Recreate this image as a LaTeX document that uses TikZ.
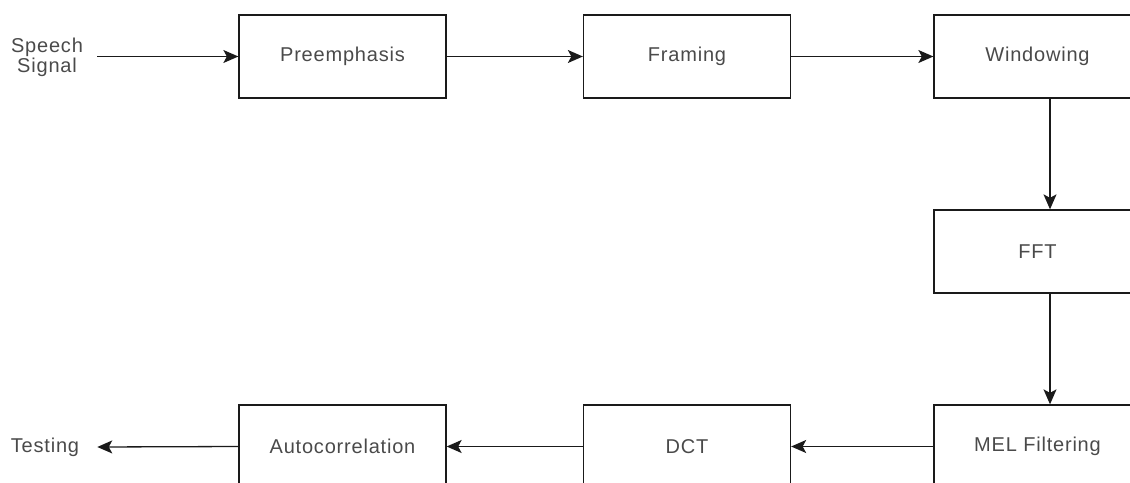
\documentclass[tikz,border=0pt]{standalone}
\usepackage{fontspec}
\setmainfont{Liberation Sans}[LetterSpace=4]
\usetikzlibrary{arrows.meta}
\definecolor{txt}{HTML}{4A4A4A}
\definecolor{ln}{HTML}{1A1A1A}
\tikzset{
  blk/.style={draw=ln, line width=1.3pt, minimum width=207pt, minimum height=83pt, inner sep=0pt, text=txt, font=\fontsize{20}{23}\selectfont},
  lbl/.style={text=txt, font=\fontsize{20}{20}\selectfont, align=center, inner sep=0pt},
  arr/.style={draw=ln, line width=1.3pt, -{Stealth[length=15pt,width=13pt,inset=3.5pt]}}
}
\begin{document}
\begin{tikzpicture}[x=1pt,y=-1pt]
\useasboundingbox (0,0) rectangle (1130,482);
\clip (0,0) rectangle (1130,482);
\node[blk] (pre) at (342.5,56.5) {Preemphasis};
\node[blk] (fra) at (687,56.5) {Framing};
\node[blk] (win) at (1037.5,56.5) {Windowing};
\node[blk] (fft) at (1037.5,251.5) {FFT};
\node[blk] (mel) at (1037.5,446.5) {MEL Filtering};
\node[blk] (dct) at (687,446.5) {DCT};
\node[blk] (aut) at (342.5,446.5) {Autocorrelation};
\node[lbl] (sp) at (47,57) {Speech\\Signal};
\node[lbl] (te) at (45,447) {Testing};
\draw[arr] ([xshift=-141pt]pre.west) -- (pre.west);
\draw[arr] (pre.east) -- (fra.west);
\draw[arr] (fra.east) -- (win.west);
\draw[arr] ([xshift=12.5pt]win.south) -- ([xshift=12.5pt]fft.north);
\draw[arr] ([xshift=12.5pt]fft.south) -- ([xshift=12.5pt]mel.north);
\draw[arr] (mel.west) -- (dct.east);
\draw[arr] (dct.west) -- (aut.west -| aut.east);
\draw[arr] (aut.west) -- ([xshift=18pt]te.east);
\end{tikzpicture}
\end{document}
